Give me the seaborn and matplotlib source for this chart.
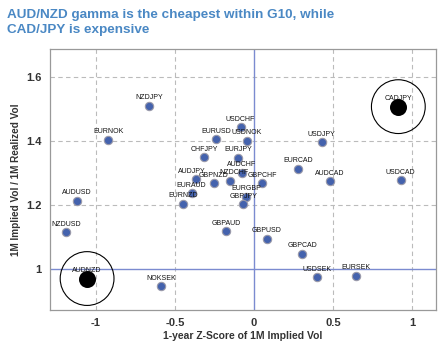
import matplotlib
matplotlib.use("Agg")
import matplotlib.pyplot as plt
import seaborn as sns
import pandas as pd

pairs = ["NZDJPY", "EURNOK", "AUDUSD", "NZDUSD", "AUDNZD", "NOKSEK", "EURUSD",
         "CHFJPY", "USDCHF", "USDNOK", "EURJPY", "AUDCHF", "AUDJPY", "GBPNZD",
         "NZDCHF", "GBPCHF", "EURAUD", "EURNZD", "EURGBP", "GBPJPY", "EURCAD",
         "AUDCAD", "USDCAD", "USDJPY", "CADJPY", "GBPAUD", "GBPUSD", "GBPCAD",
         "USDSEK", "EURSEK"]
zscore = [-0.665, -0.920, -1.122, -1.186, -1.055, -0.587, -0.241,
          -0.313, -0.084, -0.047, -0.099, -0.078, -0.367, -0.250,
          -0.152, 0.053, -0.394, -0.446, -0.051, -0.068, 0.280,
          0.481, 0.928, 0.428, 0.913, -0.177, 0.080, 0.306,
          0.401, 0.646]
ratio = [1.510, 1.404, 1.213, 1.115, 0.970, 0.946, 1.405,
         1.349, 1.442, 1.401, 1.348, 1.301, 1.280, 1.268,
         1.275, 1.268, 1.237, 1.204, 1.226, 1.203, 1.3125,
         1.274, 1.277, 1.396, 1.507, 1.117, 1.094, 1.048,
         0.974, 0.979]
highlight = ["AUDNZD", "CADJPY"]
x_ticks = [-1, -0.5, 0, 0.5, 1]
x_tick_labels = ["-1", "-0.5", "0", "0.5", "1"]
y_ticks = [1.0, 1.2, 1.4, 1.6]
y_tick_labels = ["1", "1.2", "1.4", "1.6"]

df = pd.DataFrame({"pair": pairs, "z": zscore, "r": ratio})
df["hl"] = df["pair"].isin(highlight)

sns.set_style("white")
plt.rcParams["font.family"] = ["Liberation Sans", "DejaVu Sans"]

fig = plt.figure(figsize=(4.38, 3.49), dpi=100)
ax = fig.add_axes([0.114, 0.112, 0.881, 0.748])

blue = "#4462ad"
sns.scatterplot(data=df[~df["hl"]], x="z", y="r", ax=ax, s=36, color=blue,
                edgecolor="#9a9aaa", linewidth=0.8, zorder=4, legend=False)
sns.scatterplot(data=df[df["hl"]], x="z", y="r", ax=ax, s=150, color="black",
                edgecolor="black", linewidth=0, zorder=5, legend=False)
sns.scatterplot(data=df[df["hl"]], x="z", y="r", ax=ax, s=1500, facecolor="none",
                edgecolor="black", linewidth=0.8, zorder=5, legend=False)

label_dx = {"AUDJPY": -3, "NZDCHF": 3, "GBPNZD": -1}
for _, row in df.iterrows():
    ax.annotate(row["pair"], (row["z"], row["r"]),
                xytext=(label_dx.get(row["pair"], 0), 3.2),
                textcoords="offset points", ha="center", va="bottom",
                fontsize=5, color="#111111", zorder=6)

ax.set_xlim(-1.29, 1.15)
ax.set_ylim(0.872, 1.6875)
ax.set_xticks(x_ticks)
ax.set_xticklabels(x_tick_labels)
ax.set_yticks(y_ticks)
ax.set_yticklabels(y_tick_labels)
for t in x_ticks:
    if t == 0:
        ax.axvline(t, color="#7b8bd0", lw=1.0, zorder=2)
    else:
        ax.axvline(t, color="#bbbbbb", lw=0.8, ls=(0, (4, 3)), zorder=1)
for t in y_ticks:
    if t == 1.0:
        ax.axhline(t, color="#7b8bd0", lw=1.0, zorder=2)
    else:
        ax.axhline(t, color="#bbbbbb", lw=0.8, ls=(0, (4, 3)), zorder=1)

for sp in ax.spines.values():
    sp.set_color("#999999")
    sp.set_linewidth(0.9)
ax.tick_params(axis="both", length=0, pad=6, labelsize=8, labelcolor="#333333")
for lab in ax.get_xticklabels() + ax.get_yticklabels():
    lab.set_fontweight("bold")
ax.set_xlabel("1-year Z-Score of 1M Implied Vol", fontsize=7.5, fontweight="bold",
              color="#333333", labelpad=2)
ax.set_ylabel("1M Implied Vol / 1M Realized Vol", fontsize=7.2, fontweight="bold",
              color="#333333", labelpad=4)

fig.text(0.016, 0.975, "AUD/NZD gamma is the cheapest within G10, while\nCAD/JPY is expensive",
         ha="left", va="top", fontsize=9.7, fontweight="bold", color="#4a88c4",
         linespacing=1.4)

fig.savefig("out.png", dpi=100)
